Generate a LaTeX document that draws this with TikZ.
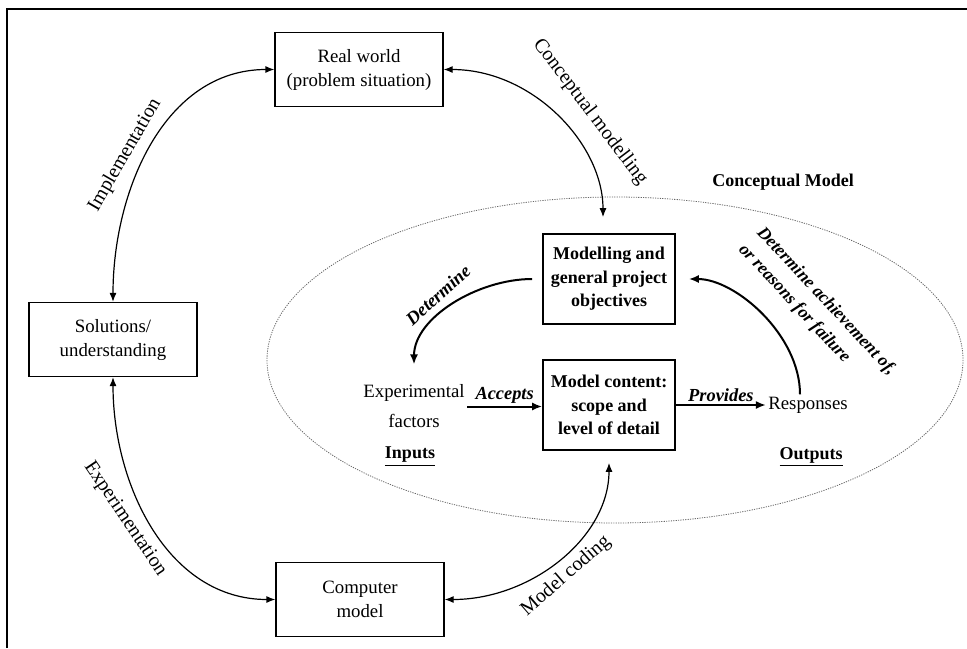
\documentclass[tikz,border=0pt]{standalone}
\usepackage{fontspec}
\setmainfont{Liberation Serif}
\usetikzlibrary{arrows.meta}

\begin{document}
\begin{tikzpicture}[x=0.5pt,y=-0.5pt,
		font=\fontsize{9.4}{12}\selectfont,
		box/.style={draw, line width=0.6pt, align=center, minimum width=84pt, minimum height=37pt, inner sep=2pt},
		inbox/.style={draw, line width=0.8pt, align=center, font=\fontsize{9}{11.8}\selectfont\bfseries, minimum width=66pt, minimum height=45pt, inner sep=2pt},
		link/.style={line width=0.6pt, {Latex[length=4.5pt,width=3.5pt]}-{Latex[length=4.5pt,width=3.5pt]}},
		flow/.style={line width=1pt, -{Latex[length=5pt,width=4pt]}},
		bflab/.style={font=\fontsize{9}{12}\selectfont\bfseries},
		itlab/.style={font=\fontsize{9.2}{12.5}\selectfont\bfseries\itshape, inner sep=1pt},
		arclab/.style={font=\fontsize{10}{12}\selectfont, inner sep=1pt}]
		\useasboundingbox (0,0) rectangle (967,648);
		\draw[line width=1.2pt] (7,648) -- (7,9) -- (967,9);
		\draw[gray!80!black, line width=0.4pt, dash pattern=on 0.6pt off 0.6pt] (615,360) ellipse [x radius=348, y radius=163];
		
		\node[box] (rw) at (359,69.5) {Real world\\(problem situation)};
		\node[box] (sol) at (113,339.5) {Solutions/\\understanding};
		\node[box] (cm) at (360,599.5) {Computer\\model};
		\node[inbox] (obj) at (609,279) {Modelling and\\general project\\objectives};
		\node[inbox] (mc) at (609,405) {Model content:\\scope and\\level of detail};
		\node[bflab] (cmt) at (783,182) {Conceptual Model};
		\node[align=center, inner sep=1pt] (exp) at (414,406.5) {Experimental\\[3pt]factors};
		\node[inner sep=1pt] (resp) at (808,405) {Responses};
		\node[bflab] (inp) at (410,457) {\underline{Inputs}};
		\node[bflab] (outp) at (811,457) {\underline{Outputs}};
		
		\draw[link] (rw.west) to[out=180,in=90] (sol.north);
		\draw[link, shorten >=8pt] (rw.east) to[out=0,in=90] ([xshift=-3pt]obj.north);
		\draw[link] (sol.south) to[out=-90,in=180] (cm.west);
		\draw[link, shorten >=6pt] (cm.east) to[out=0,in=-90] (mc.south);
		
		\draw[flow, shorten <=5pt, shorten >=9pt] (obj.west) to[out=180,in=90] (exp.north);
		\draw[flow] (exp.east) -- (exp.east -| mc.west) node[midway, above, itlab] (acc) {Accepts};
		\draw[flow] (mc.east) -- (mc.east -| resp.west) node[midway, above, itlab] (prov) {Provides};
		\draw[flow, shorten >=6.5pt] ([xshift=-4pt]resp.north) to[out=90,in=0,looseness=0.9] (obj.east);
		
		\node[rotate=60, arclab] (impl) at (125,155) {Implementation};
		\node[rotate=-53, arclab] (cmod) at (590,112) {Conceptual modelling};
		\node[rotate=-56, arclab] (expt) at (125,519) {Experimentation};
		\node[rotate=41, arclab] (mcod) at (566,576) {Model coding};
		\node[rotate=42, itlab] (det) at (438,295) {Determine};
		\node[rotate=-47, align=left, itlab, font=\fontsize{8.8}{12.5}\selectfont\bfseries\itshape] (ach) at (817,310) {Determine achievement of,\\or reasons for failure};
		
\end{tikzpicture}
\end{document}
